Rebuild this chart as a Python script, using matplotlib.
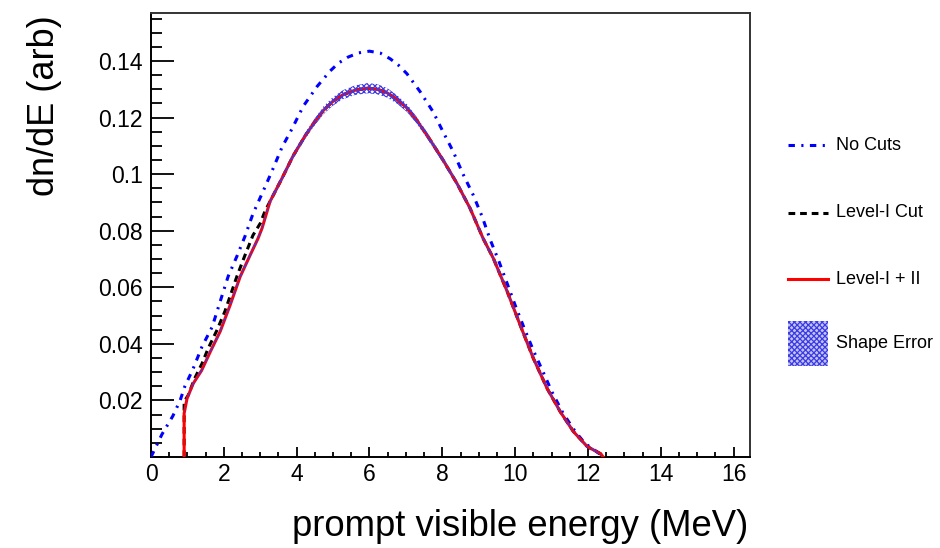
import matplotlib
matplotlib.use("Agg")
import matplotlib.pyplot as plt
from matplotlib.lines import Line2D
from matplotlib.patches import Rectangle
from matplotlib.ticker import MultipleLocator, FixedLocator, FixedFormatter
import numpy as np

plt.rcParams['font.family'] = ['Liberation Sans', 'DejaVu Sans']
plt.rcParams['hatch.linewidth'] = 0.9

# ---------------- data ----------------
nocut_E = [0.0, 0.3, 0.6, 0.8, 0.93, 1.15, 1.40, 1.68, 1.90, 2.12, 2.36, 2.58, 2.80,
           3.08, 3.32, 3.60, 3.87, 4.18, 4.56, 4.92, 5.15, 5.41, 5.70, 6.0, 6.30,
           6.57, 6.80, 7.03, 7.39, 7.75, 8.02, 8.30, 8.57, 8.85, 9.10, 9.31, 9.56,
           9.78, 10.0, 10.25, 10.5, 10.77, 11.02, 11.32, 11.65, 11.92, 12.25, 12.42]
nocut_v = [0.0, 0.008, 0.0145, 0.0200, 0.025, 0.031, 0.039, 0.046, 0.055, 0.0639,
           0.071, 0.078, 0.086, 0.094, 0.101, 0.1096, 0.116, 0.124, 0.131, 0.1365,
           0.1393, 0.1414, 0.1429, 0.1435, 0.1428, 0.1408, 0.1385, 0.1355, 0.1292,
           0.122, 0.115, 0.108, 0.100, 0.0926, 0.0848, 0.077, 0.069, 0.0614, 0.0537,
           0.0455, 0.0377, 0.030, 0.0228, 0.0154, 0.009, 0.0048, 0.0018, 0.0]

lvl1_E = [0.91, 0.91, 1.02, 1.20, 1.40, 1.57, 1.81, 2.03, 2.36, 2.58, 2.80, 3.00,
          3.13, 3.27, 3.60, 3.90, 4.23, 4.48, 4.73, 4.98, 5.27, 5.60, 5.93, 6.20,
          6.48, 6.75, 7.03, 7.30, 7.58, 8.02, 8.40, 8.76, 9.12, 9.40, 9.78, 10.14,
          10.5, 10.88, 11.24, 11.60, 11.98, 12.34, 12.42]
lvl1_v = [0.0, 0.0196, 0.0218, 0.0278, 0.033, 0.0384, 0.0448, 0.0515, 0.0639,
          0.0713, 0.0784, 0.0826, 0.0869, 0.0904, 0.0986, 0.1064, 0.1135, 0.1182,
          0.1225, 0.1256, 0.1281, 0.1297, 0.1304, 0.1301, 0.1288, 0.1265, 0.1234,
          0.1190, 0.1138, 0.105, 0.0968, 0.088, 0.0773, 0.0703, 0.0586, 0.0466,
          0.0349, 0.0242, 0.016, 0.009, 0.0037, 0.0012, 0.0]

lvl12_E = [0.91, 0.91, 0.99, 1.16, 1.39, 1.62, 1.90, 2.17, 2.45, 2.72, 2.94, 3.05,
           3.27, 3.60, 3.90, 4.23, 4.48, 4.73, 4.98, 5.27, 5.60, 5.93, 6.20, 6.48,
           6.75, 7.03, 7.30, 7.58, 8.02, 8.40, 8.76, 9.12, 9.40, 9.78, 10.14, 10.5,
           10.88, 11.24, 11.60, 11.98, 12.34, 12.42]
lvl12_v = [0.0, 0.0154, 0.0207, 0.026, 0.0306, 0.037, 0.0444, 0.0536, 0.0638,
           0.0713, 0.0773, 0.0809, 0.0904, 0.0986, 0.1064, 0.1135, 0.1182, 0.1225,
           0.1256, 0.1281, 0.1297, 0.1304, 0.1301, 0.1288, 0.1265, 0.1234, 0.1190,
           0.1138, 0.105, 0.0968, 0.088, 0.0773, 0.0703, 0.0586, 0.0466, 0.0349,
           0.0242, 0.016, 0.009, 0.0037, 0.0012, 0.0]
shape_err = [0.0, 0.0005, 0.0006, 0.0006, 0.0006, 0.0007, 0.0007, 0.0008, 0.0008,
             0.0008, 0.0008, 0.0008, 0.0009, 0.0009, 0.0010, 0.0011, 0.0012, 0.0014,
             0.0015, 0.0016, 0.0017, 0.0018, 0.0018, 0.0017, 0.0015, 0.0014, 0.0012,
             0.0011, 0.0010, 0.0009, 0.0008, 0.0008, 0.0008, 0.0007, 0.0007, 0.0006,
             0.0006, 0.0006, 0.0005, 0.0005, 0.0004, 0.0]

x_ticks = [0, 2, 4, 6, 8, 10, 12, 14, 16]
y_ticks = [0.02, 0.04, 0.06, 0.08, 0.10, 0.12, 0.14]
y_tick_labels = ['0.02', '0.04', '0.06', '0.08', '0.1', '0.12', '0.14']

legend_labels = ['No Cuts', 'Level-I Cut', 'Level-I + II', 'Shape Error']

# ---------------- figure ----------------
W, H = 940, 548
fig = plt.figure(figsize=(W / 100, H / 100), dpi=100)
ax = fig.add_axes([151 / W, (H - 457) / H, (750 - 151) / W, (457 - 13) / H])

blue_style = dict(color='#0000ff', lw=2.2, dashes=(2.1, 2.1, 0.7, 2.1))
black_style = dict(color='black', lw=2.2, dashes=(2.2, 1.6))
red_style = dict(color='#ff0000', lw=2.2)

ax.plot(nocut_E, nocut_v, **blue_style, zorder=3)
ax.plot(lvl1_E, lvl1_v, **black_style, zorder=3)
ax.plot(lvl12_E, lvl12_v, **red_style, zorder=4)
lo = np.array(lvl12_v) - np.array(shape_err)
hi = np.array(lvl12_v) + np.array(shape_err)
ax.fill_between(lvl12_E, lo, hi, facecolor='none', edgecolor='#3a3ae6',
                hatch='xxxxxx', linewidth=0, zorder=5)

ax.set_xlim(0, 16.45)
ax.set_ylim(0, 0.157)

ax.xaxis.set_major_locator(FixedLocator(x_ticks))
ax.xaxis.set_minor_locator(MultipleLocator(0.5))
ax.yaxis.set_major_locator(FixedLocator(y_ticks))
ax.yaxis.set_major_formatter(FixedFormatter(y_tick_labels))
ax.yaxis.set_minor_locator(MultipleLocator(0.005))

ax.tick_params(axis='both', which='both', direction='in', top=False, right=False,
               width=1.3, color='black')
ax.tick_params(axis='x', which='major', length=7.5, labelsize=16.5, pad=4)
ax.tick_params(axis='x', which='minor', length=3.8)
ax.tick_params(axis='y', which='major', length=16.5, labelsize=16.5, pad=6)
ax.tick_params(axis='y', which='minor', length=8)

for s in ax.spines.values():
    s.set_linewidth(1.4)
    s.set_color('black')
ax.spines['top'].set_color('#333333')
ax.spines['right'].set_color('#333333')

fig.text(45 / W, 1 - 15 / H, 'dn/dE (arb)', rotation=90, ha='center', va='top',
         fontsize=26)
fig.text(748 / W, 1 - 527 / H, 'prompt visible energy (MeV)', ha='right',
         va='center', fontsize=26.3)

# ---------------- legend (outside, right) ----------------
def fy(py):
    return 1 - py / H

x0, x1, xt = 788 / W, 828 / W, 836 / W
rows = [145, 213, 279]
styles = [blue_style, black_style, red_style]
for py, st, lab in zip(rows, styles, legend_labels[:3]):
    fig.add_artist(Line2D([x0, x1], [fy(py), fy(py)], transform=fig.transFigure, **st))
    fig.text(xt, fy(py), lab, ha='left', va='center', fontsize=13)
fig.add_artist(Rectangle((x0, fy(366)), x1 - x0, (366 - 321) / H,
                         transform=fig.transFigure, facecolor='#c4c4f2',
                         edgecolor='#3a3ae6', hatch='xxxxxx', linewidth=0))
fig.text(xt, fy(344), legend_labels[3], ha='left', va='center', fontsize=13)

fig.savefig('out.png', dpi=100)
